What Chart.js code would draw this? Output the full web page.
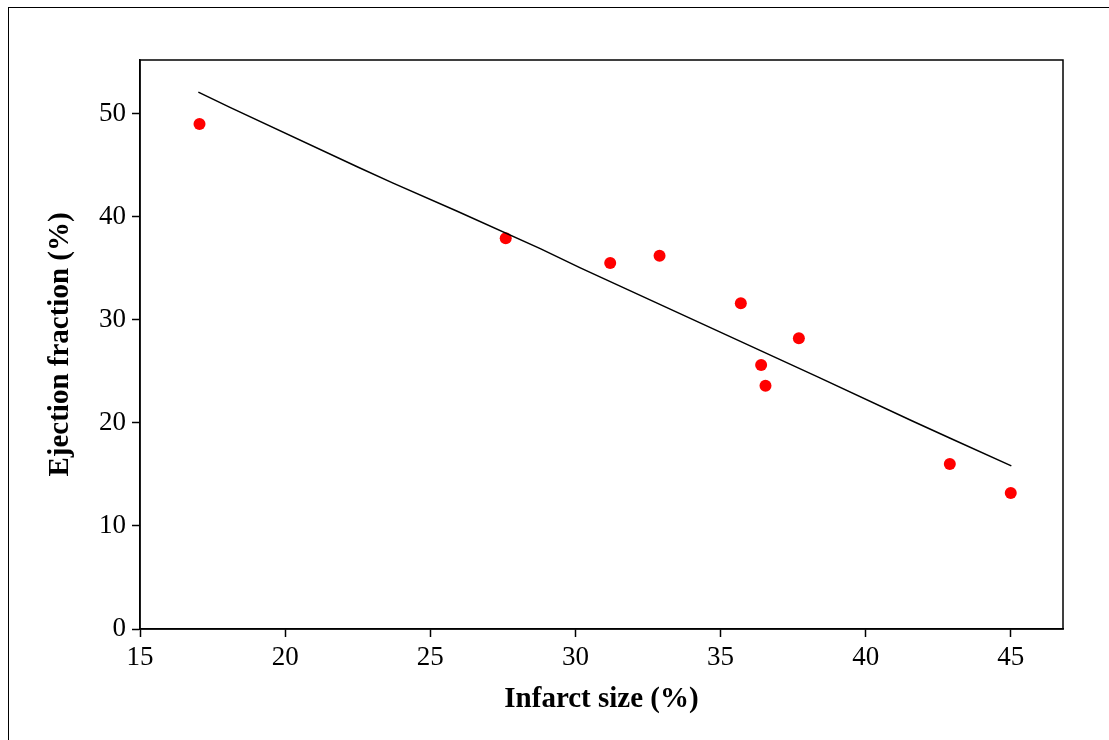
<!DOCTYPE html>
<html>
<head>
<meta charset="utf-8">
<script src="https://cdn.jsdelivr.net/npm/chart.js@4/dist/chart.umd.min.js"></script>
<style>
  html, body { margin: 0; padding: 0; background: #fff; }
  #wrap { position: relative; width: 1109px; height: 740px; overflow: hidden; }
  #frame { position: absolute; left: 8px; top: 7px; width: 1200px; height: 800px; border-left: 1px solid #000; border-top: 1px solid #000; }
  #chart { position: absolute; left: 0; top: 0; }
</style>
</head>
<body>
<div id="wrap">
  <div id="frame"></div>
  <canvas id="chart" width="1109" height="740"></canvas>
</div>
<script>
// infarct size (%) vs ejection fraction (%)
var infarctSize = [17.05, 27.6, 31.2, 32.9, 35.7, 36.4, 36.55, 37.7, 42.9, 45.0];
var ejectionFraction = [49.0, 37.9, 35.5, 36.2, 31.6, 25.6, 23.6, 28.2, 16.0, 13.2];

// fitted line vertices
var fitX = [17.01, 18.1, 22.52, 23.72, 25.93, 28.79, 30.17, 38.33, 41.61, 42.99, 45.02];
var fitY = [52.09, 50.61, 44.8, 43.25, 40.53, 36.9, 35.04, 24.48, 20.18, 18.41, 15.82];

var xTicks = [15, 20, 25, 30, 35, 40, 45];
var yTicks = [0, 10, 20, 30, 40, 50];

var serif = "'Liberation Serif', 'Times New Roman', serif";

function toPoints(xs, ys) {
  return xs.map(function (x, i) { return { x: x, y: ys[i] }; });
}

// box around the plot area
var boxPlugin = {
  id: 'box',
  afterDraw: function (chart) {
    var a = chart.chartArea;
    var ctx = chart.ctx;
    ctx.save();
    ctx.strokeStyle = '#000';
    ctx.lineWidth = 1.5;
    ctx.strokeRect(a.left, a.top, a.right - a.left, a.bottom - a.top);
    ctx.restore();
  }
};

new Chart(document.getElementById('chart'), {
  type: 'scatter',
  data: {
    datasets: [
      {
        label: 'Fit',
        data: toPoints(fitX, fitY),
        showLine: true,
        borderColor: '#000',
        borderWidth: 1.5,
        pointRadius: 0,
        tension: 0
      },
      {
        label: 'Patients',
        data: toPoints(infarctSize, ejectionFraction),
        backgroundColor: '#ff0000',
        borderColor: '#ff0000',
        borderWidth: 0,
        pointRadius: 6
      }
    ]
  },
  options: {
    responsive: false,
    animation: false,
    layout: { padding: { left: 0, top: 60, right: 46, bottom: 0 } },
    plugins: {
      legend: { display: false },
      tooltip: { enabled: false }
    },
    scales: {
      x: {
        type: 'linear',
        min: 15,
        max: 46.8,
        afterFit: function (s) { s.height = 111; },
        afterBuildTicks: function (s) { s.ticks = xTicks.map(function (v) { return { value: v }; }); },
        grid: { drawOnChartArea: false, drawTicks: true, tickLength: 8, tickWidth: 1.5, tickColor: '#000' },
        border: { color: '#000', width: 1.5 },
        ticks: { color: '#000', padding: 5, maxRotation: 0, font: { family: serif, size: 27 } },
        title: {
          display: true,
          text: 'Infarct size (%)',
          color: '#000',
          font: { family: serif, size: 29, weight: 'bold' },
          padding: { top: 0, bottom: 23 }
        }
      },
      y: {
        type: 'linear',
        min: 0,
        max: 55.2,
        afterFit: function (s) { s.width = 140; },
        afterBuildTicks: function (s) { s.ticks = yTicks.map(function (v) { return { value: v }; }); },
        grid: { drawOnChartArea: false, drawTicks: true, tickLength: 8, tickWidth: 1.5, tickColor: '#000' },
        border: { color: '#000', width: 1.5 },
        ticks: { color: '#000', padding: 6, font: { family: serif, size: 27 } },
        title: {
          display: true,
          text: 'Ejection fraction (%)',
          color: '#000',
          font: { family: serif, size: 29, weight: 'bold' },
          padding: { top: 43, bottom: 0 }
        }
      }
    }
  },
  plugins: [boxPlugin]
});
</script>
</body>
</html>
